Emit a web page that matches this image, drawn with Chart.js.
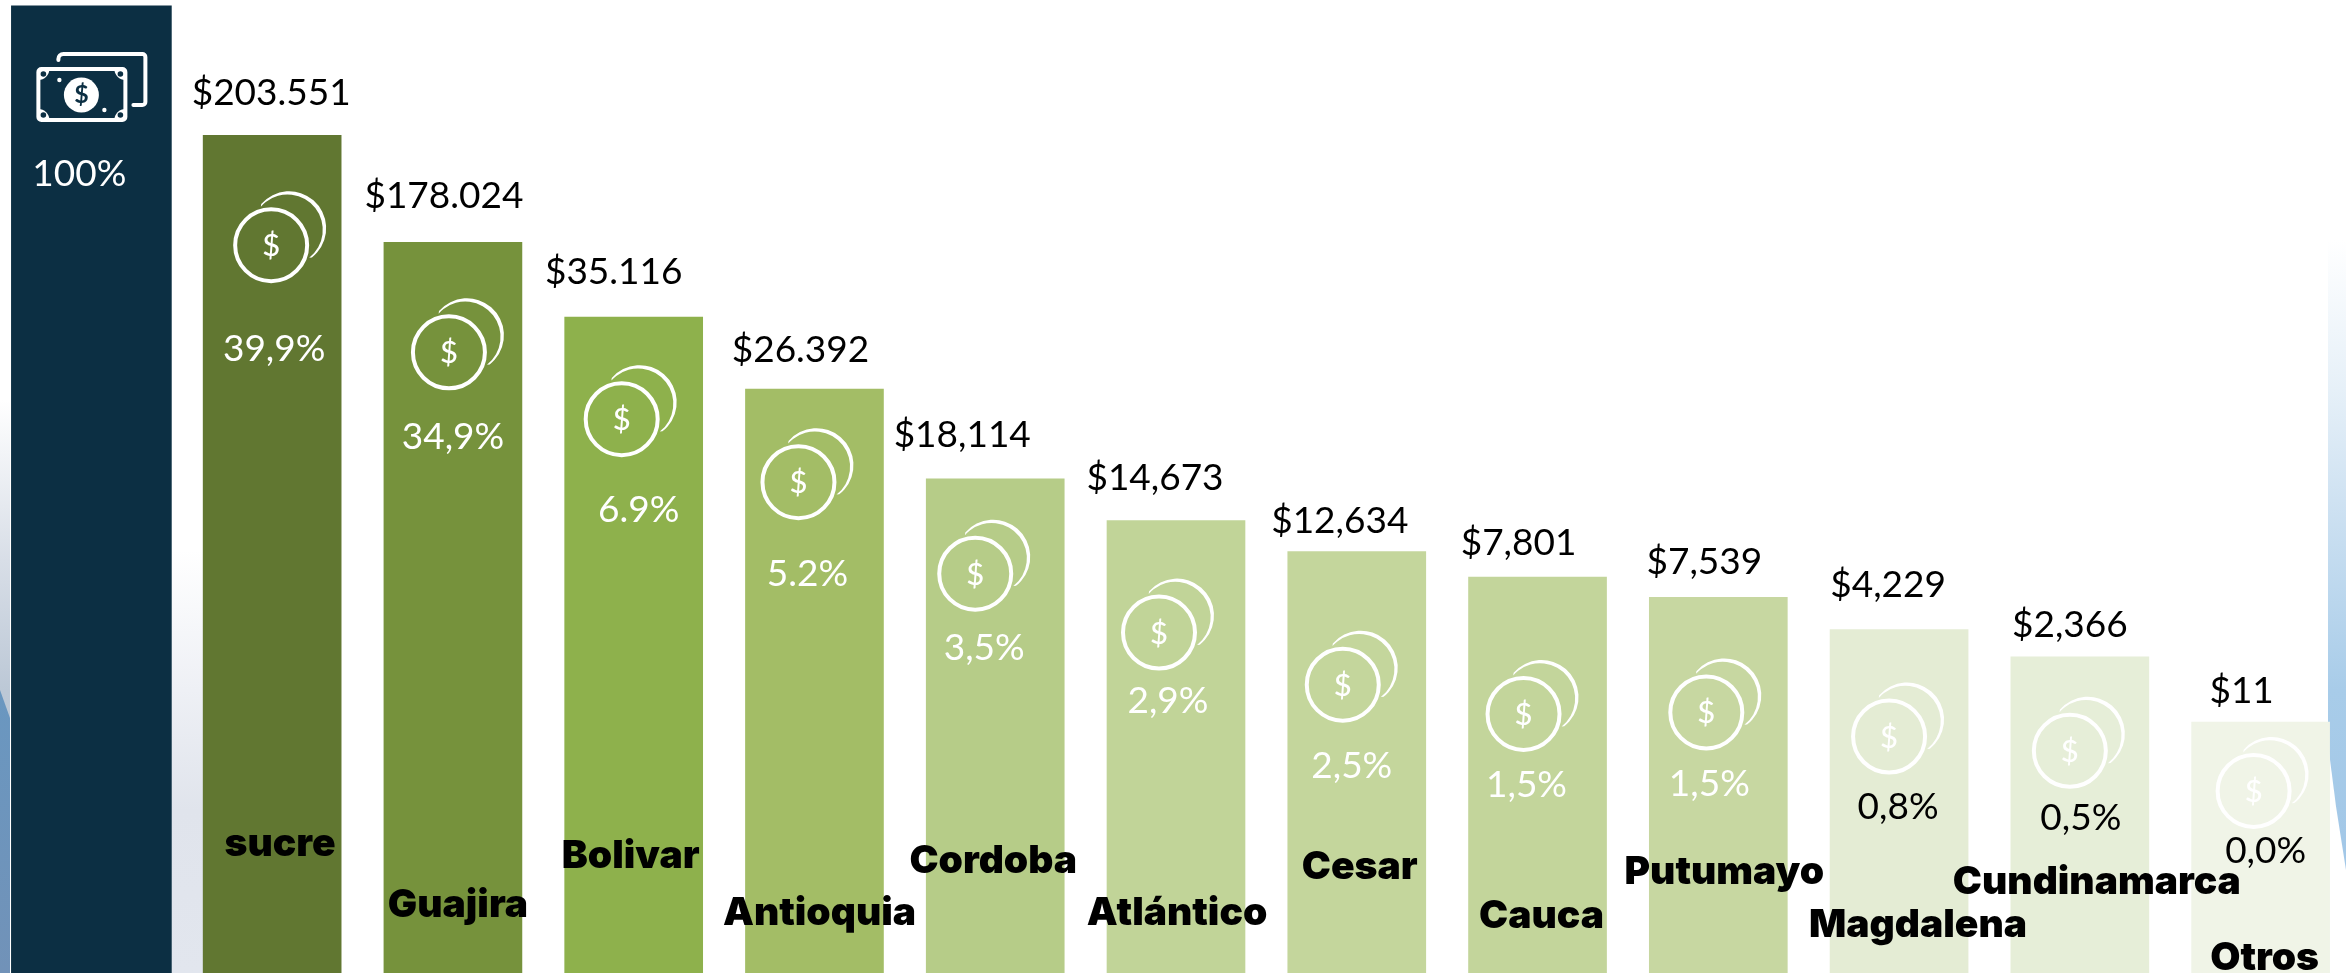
<!DOCTYPE html>
<html lang="es">
<head>
<meta charset="utf-8">
<title>Distribución por departamento</title>
<script src="https://cdn.jsdelivr.net/npm/chart.js@4"></script>
<style>
  html, body { margin: 0; padding: 0; background: #fff; overflow: hidden; }
  #stage { position: relative; width: 2346px; height: 973px; overflow: hidden; }
  .wash { position: absolute; }
  #washLeft { left: 0; top: 400px; width: 10px; height: 573px;
    background: linear-gradient(to bottom, #fff 0, #d8dee7 160px, #bcc8d6 290px, #b4c0d0 100%); }
  #washBlue { left: 0; top: 690px; width: 10px; height: 283px;
    background: linear-gradient(to bottom, #6a97c0 0, #7192b8 100%);
    clip-path: polygon(0 0, 100% 28px, 100% 100%, 0 100%); }
  #washGap { left: 170px; top: 550px; width: 42px; height: 423px;
    background: linear-gradient(to bottom, #fff 0, #eef0f5 140px, #e0e4ec 260px, #e2e6ee 100%); }
  #washRight { left: 2328px; top: 240px; width: 18px; height: 630px;
    background: linear-gradient(to bottom, #fff 0, #e6f0f8 150px, #cfe2f2 260px, #a8cce9 450px, #a2c7e7 100%);
    clip-path: polygon(0 0, 100% 0, 100% 100%, 45% 90%, 0 80%); }
  #chart { position: absolute; left: 1px; top: 0; }
</style>
</head>
<body>
<div id="stage">
  <div class="wash" id="washLeft"></div>
  <div class="wash" id="washBlue"></div>
  <div class="wash" id="washGap"></div>
  <div class="wash" id="washRight"></div>
  <canvas id="chart" width="2350" height="973"></canvas>
</div>
<script>
// Data
const categories = ['sucre', 'Guajira', 'Bolivar', 'Antioquia', 'Cordoba', 'Atlántico', 'Cesar', 'Cauca', 'Putumayo', 'Magdalena', 'Cundinamarca', 'Otros'];
const valueLabels = ['$203.551', '$178.024', '$35.116', '$26.392', '$18,114', '$14,673', '$12,634', '$7,801', '$7,539', '$4,229', '$2,366', '$11'];
const shareLabels = ['39,9%', '34,9%', '6.9%', '5.2%', '3,5%', '2,9%', '2,5%', '1,5%', '1,5%', '0,8%', '0,5%', '0,0%'];
const totalLabel = '100%';
// the drawn bars are not proportional to the labels, so lengths are read separately (% of picture height)
const barLengths = [86.1, 75.1, 67.4, 60.0, 50.8, 46.5, 43.3, 40.7, 38.6, 35.3, 32.5, 25.8];
const totalLength = 99.4;

// Colours
const barColors = ['#617731', '#76923c', '#8eb14c', '#a3bd66', '#b6cc88', '#c1d498', '#c4d69c', '#c3d59b', '#c7d7a1', '#e4ecd4', '#e6eed8', '#f0f4e7'];
const shareColors = ['#fff', '#fff', '#fff', '#fff', '#fff', '#fff', '#fff', '#fff', '#fff', '#000', '#000', '#000'];

// Label offsets from the top centre of each bar: [dx, dy]
const valueOffsets = [[-1,-42],[-9,-46],[-20,-45],[-14,-39],[-33,-44],[-21,-42],[-17,-31],[-19,-34],[-14,-35],[-11,-44],[-10,-32],[-19,-31]];
const shareOffsets = [[2,214],[0,195],[5,193],[-7,185],[-11,169],[-8,181],[-5,214],[-11,208],[-9,187],[-1,178],[1,161],[5,129]];
const coinOffsets = [[-1,110],[-4,110],[-12,102],[-16,93],[-20,95],[-17,112],[-14,133],[-14,137],[-12,115],[-10,107],[-10,94],[-7,69]];
const nameOffsets = [[8,709],[5,663],[-3,539],[5,524],[-2,383],[1,393],[3,316],[4,339],[6,275],[19,296],[17,226],[4,236]];

const SHARE = '400 37px Lato';
const VALUE = '400 37px Lato';
const BOLD = '900 39px Inter';

function text(ctx, str, x, y, font, color) {
  ctx.font = font;
  ctx.fillStyle = color;
  ctx.textAlign = 'center';
  ctx.textBaseline = 'middle';
  ctx.fillText(str, x, y);
}

function drawCoins(ctx, x, y) {
  const back = { x: x + 18, y: y - 17 };
  const from = 221 * Math.PI / 180, to = 52 * Math.PI / 180;
  const mid = (from + to + 2 * Math.PI) / 2;
  ctx.fillStyle = '#fff';
  ctx.strokeStyle = '#fff';
  // crescent behind, thin at both ends
  ctx.beginPath();
  ctx.arc(back.x, back.y, 37, from, to);
  ctx.arc(back.x - 2.3 * Math.cos(mid), back.y - 2.3 * Math.sin(mid), 35.3, to, from, true);
  ctx.closePath();
  ctx.fill();
  // coin in front
  ctx.lineWidth = 4;
  ctx.beginPath();
  ctx.arc(x, y, 36, 0, Math.PI * 2);
  ctx.stroke();
  text(ctx, '$', x, y + 1, '500 31px Lato', '#fff');
}

function drawNotes(ctx, x) {
  const dark = '#0c2f43';
  const left = x - 53, top = 69, w = 87, h = 51;
  ctx.strokeStyle = '#fff';
  ctx.lineWidth = 4;
  ctx.lineCap = 'round';
  // note behind
  ctx.beginPath();
  ctx.moveTo(x - 33, 60);
  ctx.arcTo(x - 33, 54, x - 27, 54, 5);
  ctx.lineTo(x + 50, 54);
  ctx.arcTo(x + 54, 54, x + 54, 58, 3);
  ctx.lineTo(x + 54, 102);
  ctx.arcTo(x + 54, 105, x + 50, 105, 3);
  ctx.lineTo(x + 42, 105);
  ctx.stroke();
  // note in front, corners filled and punched with a dot
  ctx.beginPath();
  ctx.roundRect(left, top, w, h, 3);
  ctx.stroke();
  ctx.save();
  ctx.beginPath();
  ctx.rect(left, top, w, h);
  ctx.clip();
  [[left, top, 1, 1], [left + w, top, -1, 1], [left, top + h, 1, -1], [left + w, top + h, -1, -1]].forEach(function (c) {
    ctx.fillStyle = '#fff';
    ctx.beginPath();
    ctx.arc(c[0], c[1], 11, 0, Math.PI * 2);
    ctx.fill();
    ctx.fillStyle = dark;
    ctx.beginPath();
    ctx.arc(c[0] + 5 * c[2], c[1] + 5 * c[3], 2.8, 0, Math.PI * 2);
    ctx.fill();
  });
  ctx.restore();
  ctx.fillStyle = '#fff';
  [[x - 32, 80], [x + 13, 110]].forEach(function (c) {
    ctx.beginPath();
    ctx.arc(c[0], c[1], 2.2, 0, Math.PI * 2);
    ctx.fill();
  });
  ctx.beginPath();
  ctx.arc(x - 10, 95, 17.5, 0, Math.PI * 2);
  ctx.fill();
  text(ctx, '$', x - 10, 95, '700 25px Lato', dark);
}

const labelPlugin = {
  id: 'barLabels',
  afterDatasetsDraw(chart) {
    const ctx = chart.ctx;
    ctx.save();
    const total = chart.getDatasetMeta(0).data[0];
    drawNotes(ctx, total.x);
    text(ctx, totalLabel, total.x - 12, 174, SHARE, '#fff');

    const bars = chart.getDatasetMeta(1).data;
    categories.forEach(function (name, i) {
      const bar = bars[i + 1];
      drawCoins(ctx, bar.x + coinOffsets[i][0], bar.y + coinOffsets[i][1]);
      text(ctx, valueLabels[i], bar.x + valueOffsets[i][0], bar.y + valueOffsets[i][1], VALUE, '#000');
      text(ctx, shareLabels[i], bar.x + shareOffsets[i][0], bar.y + shareOffsets[i][1], SHARE, shareColors[i]);
    });
    // names go last, they spill over the neighbouring bars
    categories.forEach(function (name, i) {
      const bar = bars[i + 1];
      text(ctx, name, bar.x + nameOffsets[i][0], bar.y + nameOffsets[i][1], BOLD, '#000');
    });
    ctx.restore();
  }
};

new Chart(document.getElementById('chart'), {
  type: 'bar',
  data: {
    labels: ['Total'].concat(categories),
    datasets: [
      { label: 'Total', data: [totalLength], backgroundColor: '#0c2f43', barThickness: 160 },
      { label: 'Departamentos', data: [null].concat(barLengths), backgroundColor: [null].concat(barColors), barThickness: 138 }
    ]
  },
  options: {
    responsive: false,
    animation: false,
    layout: { padding: 0 },
    datasets: { bar: { grouped: false } },
    plugins: { legend: { display: false }, tooltip: { enabled: false } },
    scales: {
      x: { display: false },
      y: { display: false, min: 0, max: 100 }
    }
  },
  plugins: [labelPlugin]
});
</script>
</body>
</html>
